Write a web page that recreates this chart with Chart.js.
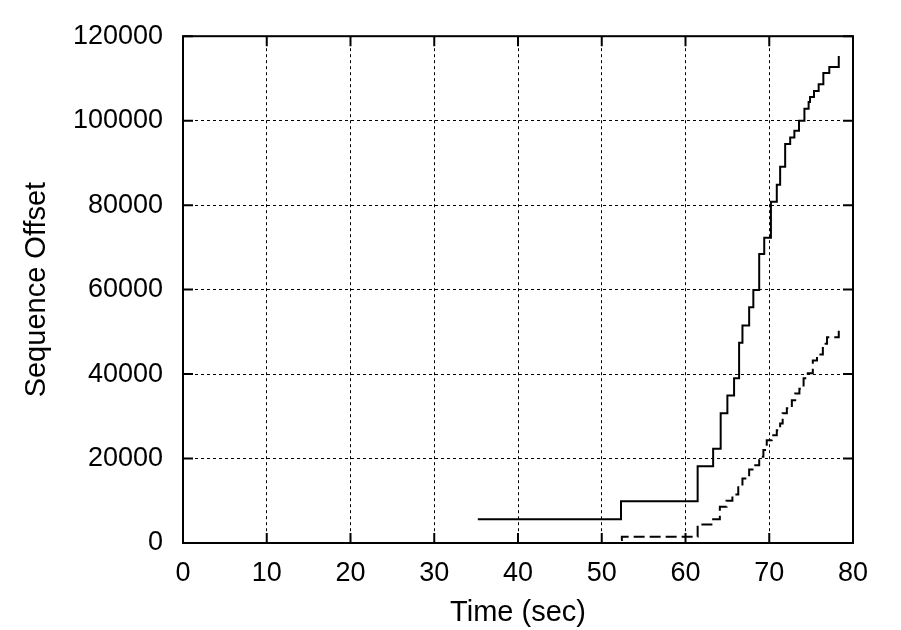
<!DOCTYPE html>
<html>
<head>
<meta charset="utf-8">
<script src="https://cdn.jsdelivr.net/npm/chart.js@4/dist/chart.umd.min.js"></script>
<style>
  html, body { margin: 0; padding: 0; background: #fff; }
  #wrap { width: 901px; height: 630px; }
</style>
</head>
<body>
<div id="wrap"><canvas id="seq"></canvas></div>
<script>
// solid trace: time of each step (sec) and the offset reached there
const solidTimes = [35.2, 52.3, 61.45, 63.3, 64.2, 65.0, 65.8, 66.4, 66.8, 67.6, 68.1, 68.8, 69.4, 70.2,
  70.9, 71.3, 71.9, 72.5, 73.0, 73.55, 74.2, 74.7, 74.87, 75.34, 75.9, 76.46, 77.17, 78.3];
const solidOffsets = [5600, 9900, 18200, 22300, 30700, 34900, 39000, 47400, 51500, 55800, 59900, 68400, 72300, 80800,
  84800, 89100, 94500, 96000, 97600, 100000, 102800, 104400, 105600, 107000, 108600, 111300, 112700, 115300];

// dashed trace
const dashedTimes = [52.3, 52.4, 61.45, 63.3, 64.1, 64.9, 65.6, 66.3, 66.8, 67.6, 68.2, 68.8, 69.3, 69.7,
  70.3, 70.9, 71.3, 71.6, 72.1, 72.7, 73.1, 73.6, 74.1, 74.6, 75.2, 75.7, 76.4, 76.9, 78.3];
const dashedOffsets = [700, 1500, 4400, 5600, 8600, 10000, 11500, 13500, 15300, 17400, 18400, 20400, 22000, 24300,
  25500, 26700, 28300, 30700, 31900, 33800, 35400, 36500, 39000, 40200, 43200, 44650, 47200, 48700, 51100];

const xTicks = [0, 10, 20, 30, 40, 50, 60, 70, 80];
const yTicks = [0, 20000, 40000, 60000, 80000, 100000, 120000];

function pts(xs, ys) {
  return xs.map((x, i) => ({ x: x, y: ys[i] }));
}

const font = 'Liberation Sans, Arial, Helvetica, sans-serif';

// gnuplot style border with inward ticks
const framePlugin = {
  id: 'frame',
  afterDraw(chart) {
    const { ctx, chartArea: a, scales } = chart;
    ctx.save();
    ctx.strokeStyle = '#000';
    ctx.lineWidth = 2;
    ctx.beginPath();
    xTicks.forEach(v => {
      const px = scales.x.getPixelForValue(v);
      ctx.moveTo(px, a.bottom); ctx.lineTo(px, a.bottom - 10);
      ctx.moveTo(px, a.top); ctx.lineTo(px, a.top + 10);
    });
    yTicks.forEach(v => {
      const py = scales.y.getPixelForValue(v);
      ctx.moveTo(a.left, py); ctx.lineTo(a.left + 10, py);
      ctx.moveTo(a.right, py); ctx.lineTo(a.right - 10, py);
    });
    ctx.stroke();
    ctx.strokeRect(a.left, a.top, a.right - a.left, a.bottom - a.top);
    ctx.restore();
  }
};

const grid = {
  color: '#000',
  lineWidth: 1,
  drawTicks: false
};

new Chart(document.getElementById('seq'), {
  type: 'line',
  data: {
    datasets: [
      {
        data: pts(solidTimes, solidOffsets),
        borderColor: '#000',
        borderWidth: 2,
        stepped: 'before',
        pointRadius: 0,
        fill: false
      },
      {
        data: pts(dashedTimes, dashedOffsets),
        borderColor: '#000',
        borderWidth: 2,
        borderDash: [11, 5],
        stepped: 'before',
        pointRadius: 0,
        fill: false
      }
    ]
  },
  options: {
    responsive: true,
    maintainAspectRatio: false,
    animation: false,
    layout: { padding: { left: 0, right: 48, top: 35, bottom: 0 } },
    plugins: { legend: { display: false }, tooltip: { enabled: false } },
    scales: {
      x: {
        type: 'linear',
        min: 0,
        max: 80,
        afterFit(s) { s.height = 87; },
        afterBuildTicks(s) { s.ticks = xTicks.map(v => ({ value: v })); },
        grid: Object.assign({}, grid),
        border: { display: false, dash: [3, 3] },
        ticks: { color: '#000', padding: 14, font: { family: font, size: 27 }, maxRotation: 0 },
        title: {
          display: true,
          text: 'Time (sec)',
          color: '#000',
          font: { family: font, size: 29 },
          padding: { top: 0, bottom: 0 }
        }
      },
      y: {
        min: 0,
        max: 120000,
        afterFit(s) { s.width = 183; },
        afterBuildTicks(s) { s.ticks = yTicks.map(v => ({ value: v })); },
        grid: Object.assign({}, grid),
        border: { display: false, dash: [3, 3] },
        ticks: { color: '#000', padding: 20, font: { family: font, size: 27 }, callback: v => String(v) },
        title: {
          display: true,
          text: 'Sequence Offset',
          color: '#000',
          font: { family: font, size: 29 },
          padding: { top: 20, bottom: 0 }
        }
      }
    }
  },
  plugins: [framePlugin]
});
</script>
</body>
</html>
